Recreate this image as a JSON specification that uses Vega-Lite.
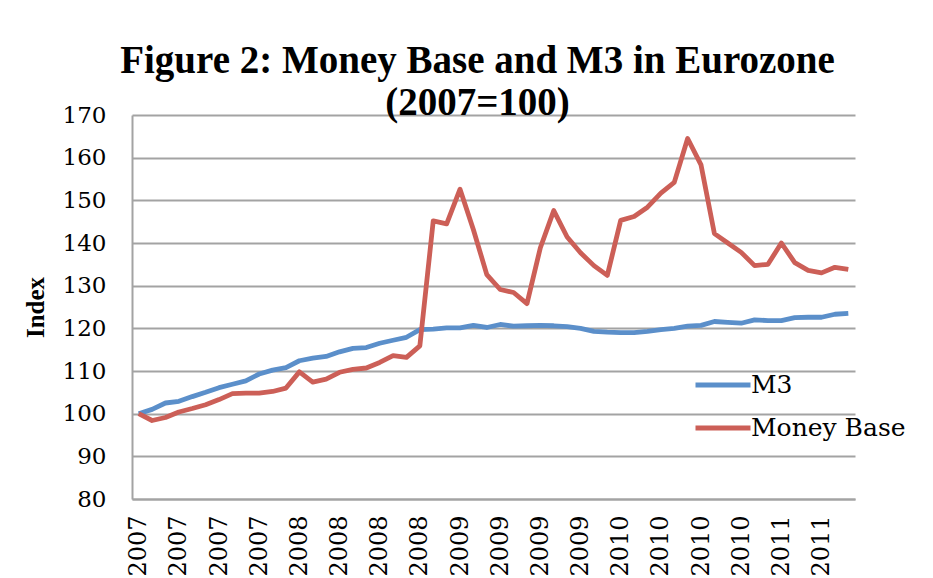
{
  "$schema": "https://vega.github.io/schema/vega-lite/v6.json",
  "width": 723,
  "height": 384,
  "autosize": {"type": "none"},
  "padding": {"left": 132, "top": 115, "right": 78, "bottom": 79},
  "background": "white",
  "title": {
    "text": ["Figure 2: Money Base and M3 in Eurozone", "(2007=100)"],
    "font": "Liberation Serif",
    "fontSize": 39,
    "fontWeight": "bold",
    "color": "black",
    "anchor": "middle",
    "dx": -16,
    "lineHeight": 42,
    "offset": -19
  },
  "data": {
    "values": [
      {"month": "2007-01", "M3": 100.0, "Money Base": 100.0},
      {"month": "2007-02", "M3": 101.0, "Money Base": 98.4},
      {"month": "2007-03", "M3": 102.5, "Money Base": 99.1},
      {"month": "2007-04", "M3": 102.9, "Money Base": 100.4},
      {"month": "2007-05", "M3": 104.0, "Money Base": 101.2},
      {"month": "2007-06", "M3": 105.0, "Money Base": 102.1},
      {"month": "2007-07", "M3": 106.1, "Money Base": 103.3},
      {"month": "2007-08", "M3": 106.9, "Money Base": 104.7},
      {"month": "2007-09", "M3": 107.7, "Money Base": 104.8},
      {"month": "2007-10", "M3": 109.3, "Money Base": 104.8},
      {"month": "2007-11", "M3": 110.2, "Money Base": 105.2},
      {"month": "2007-12", "M3": 110.8, "Money Base": 106.0},
      {"month": "2008-01", "M3": 112.4, "Money Base": 109.8},
      {"month": "2008-02", "M3": 113.0, "Money Base": 107.4},
      {"month": "2008-03", "M3": 113.4, "Money Base": 108.1},
      {"month": "2008-04", "M3": 114.5, "Money Base": 109.7},
      {"month": "2008-05", "M3": 115.3, "Money Base": 110.4},
      {"month": "2008-06", "M3": 115.5, "Money Base": 110.7},
      {"month": "2008-07", "M3": 116.5, "Money Base": 112.0},
      {"month": "2008-08", "M3": 117.2, "Money Base": 113.6},
      {"month": "2008-09", "M3": 117.9, "Money Base": 113.2},
      {"month": "2008-10", "M3": 119.7, "Money Base": 115.9},
      {"month": "2008-11", "M3": 119.8, "Money Base": 145.2},
      {"month": "2008-12", "M3": 120.1, "Money Base": 144.5},
      {"month": "2009-01", "M3": 120.1, "Money Base": 152.6},
      {"month": "2009-02", "M3": 120.7, "Money Base": 143.1},
      {"month": "2009-03", "M3": 120.2, "Money Base": 132.6},
      {"month": "2009-04", "M3": 120.9, "Money Base": 129.1},
      {"month": "2009-05", "M3": 120.5, "Money Base": 128.4},
      {"month": "2009-06", "M3": 120.6, "Money Base": 125.8},
      {"month": "2009-07", "M3": 120.7, "Money Base": 138.9},
      {"month": "2009-08", "M3": 120.6, "Money Base": 147.6},
      {"month": "2009-09", "M3": 120.4, "Money Base": 141.4},
      {"month": "2009-10", "M3": 120.0, "Money Base": 137.7},
      {"month": "2009-11", "M3": 119.3, "Money Base": 134.7},
      {"month": "2009-12", "M3": 119.1, "Money Base": 132.4},
      {"month": "2010-01", "M3": 119.0, "Money Base": 145.3},
      {"month": "2010-02", "M3": 119.0, "Money Base": 146.2},
      {"month": "2010-03", "M3": 119.3, "Money Base": 148.4},
      {"month": "2010-04", "M3": 119.7, "Money Base": 151.7},
      {"month": "2010-05", "M3": 120.0, "Money Base": 154.2},
      {"month": "2010-06", "M3": 120.5, "Money Base": 164.5},
      {"month": "2010-07", "M3": 120.7, "Money Base": 158.3},
      {"month": "2010-08", "M3": 121.6, "Money Base": 142.2},
      {"month": "2010-09", "M3": 121.4, "Money Base": 140.0},
      {"month": "2010-10", "M3": 121.2, "Money Base": 137.8},
      {"month": "2010-11", "M3": 122.0, "Money Base": 134.7},
      {"month": "2010-12", "M3": 121.8, "Money Base": 135.0},
      {"month": "2011-01", "M3": 121.8, "Money Base": 140.0},
      {"month": "2011-02", "M3": 122.5, "Money Base": 135.4},
      {"month": "2011-03", "M3": 122.6, "Money Base": 133.6},
      {"month": "2011-04", "M3": 122.6, "Money Base": 133.0},
      {"month": "2011-05", "M3": 123.3, "Money Base": 134.3},
      {"month": "2011-06", "M3": 123.5, "Money Base": 133.8}
    ]
  },
  "transform": [{"fold": ["M3", "Money Base"], "as": ["series", "value"]}],
  "mark": {"type": "line", "strokeWidth": 4.8, "strokeJoin": "round"},
  "encoding": {
    "x": {
      "field": "month",
      "type": "ordinal",
      "scale": {"type": "point", "padding": 0.5},
      "axis": {
        "title": null,
        "values": ["2007-01", "2007-04", "2007-07", "2007-10", "2008-01", "2008-04", "2008-07", "2008-10", "2009-01", "2009-04", "2009-07", "2009-10", "2010-01", "2010-04", "2010-07", "2010-10", "2011-01", "2011-04"],
        "labelExpr": "slice(datum.value, 0, 4)",
        "labelAngle": -90,
        "labelFont": "DejaVu Serif",
        "labelFontSize": 24,
        "labelColor": "black",
        "labelPadding": 16,
        "labelOverlap": false,
        "labelBound": false,
        "ticks": false,
        "grid": false,
        "domainColor": "#a3a3a3",
        "domainWidth": 2
      }
    },
    "y": {
      "field": "value",
      "type": "quantitative",
      "scale": {"domain": [80, 170], "nice": false, "zero": false},
      "axis": {
        "values": [80, 90, 100, 110, 120, 130, 140, 150, 160, 170],
        "title": "Index",
        "titleFont": "Liberation Serif",
        "titleFontWeight": "bold",
        "titleFontSize": 25,
        "titleColor": "black",
        "titlePadding": 14,
        "labelFont": "DejaVu Serif",
        "labelFontSize": 23,
        "labelColor": "black",
        "labelPadding": 26,
        "ticks": false,
        "grid": true,
        "gridColor": "#a3a3a3",
        "gridWidth": 2,
        "domainColor": "#a3a3a3",
        "domainWidth": 2
      }
    },
    "color": {
      "field": "series",
      "type": "nominal",
      "scale": {"domain": ["M3", "Money Base"], "range": ["#5b8fca", "#cc5f57"]},
      "legend": {
        "title": null,
        "orient": "none",
        "legendX": 561,
        "legendY": 240,
        "padding": 0,
        "symbolType": "stroke",
        "symbolSize": 3025,
        "symbolStrokeWidth": 5,
        "labelFont": "DejaVu Serif",
        "labelFontSize": 25,
        "labelColor": "black",
        "labelOffset": -2,
        "rowPadding": -12
      }
    }
  },
  "config": {"view": {"stroke": null}}
}
